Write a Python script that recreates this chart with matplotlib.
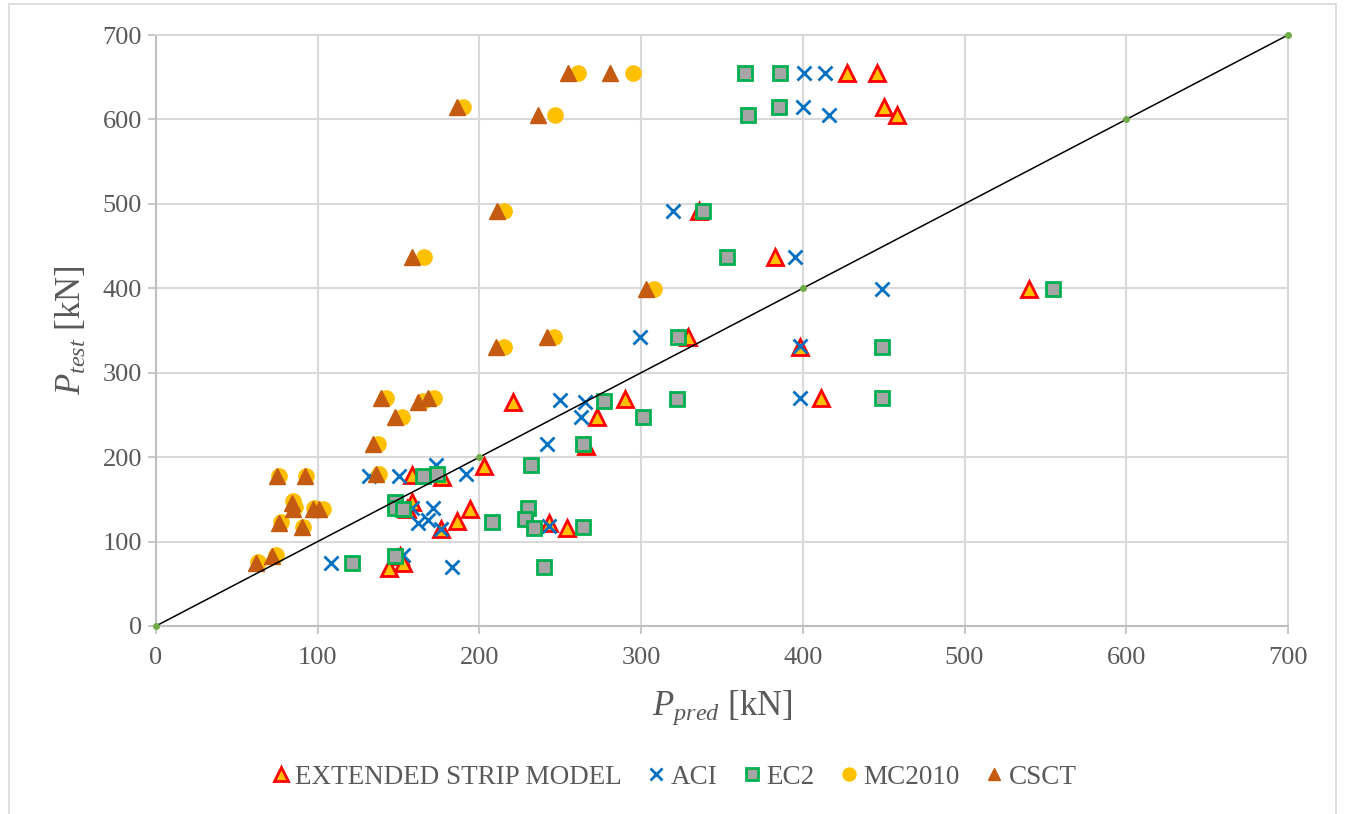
#!/usr/bin/env python3
"""
Ptest vs Ppred scatter for the five punching models, Excel look.
"""
import matplotlib
matplotlib.use("Agg")
import matplotlib.pyplot as plt
from matplotlib.patches import Rectangle

plt.rcParams["font.family"] = ["Liberation Serif", "DejaVu Serif"]
plt.rcParams["mathtext.fontset"] = "custom"
plt.rcParams["mathtext.rm"] = "Liberation Serif"
plt.rcParams["mathtext.it"] = "Liberation Serif:italic"

TXT = "#595959"
GRID = "#d9d9d9"

# EXTENDED STRIP MODEL
esm_pred = [427, 446, 450, 458, 336, 383, 540, 329, 398, 290, 411, 221, 273, 266,
            203, 158, 177, 158, 155, 194, 186, 243, 176, 254, 151, 153, 144]
esm_test = [655, 655, 615, 605, 491, 437, 399, 342, 331, 269, 270, 265, 247, 213,
            190, 179, 177, 147, 138, 139, 124, 122, 115, 116, 83, 74, 69]

# ACI
aci_pred = [401, 414, 400, 416, 320, 395, 449, 299, 398, 250, 398, 265, 263, 242,
            173, 192, 150, 132, 158, 171, 168, 162, 176, 243, 153, 108, 183]
aci_test = [655, 655, 615, 605, 491, 437, 399, 342, 332, 268, 270, 265, 247, 215,
            191, 180, 178, 178, 140, 140, 125, 122, 115, 118, 84, 75, 70]

# EC2
ec2_pred = [364, 386, 385, 366, 338, 353, 555, 323, 449, 322, 449, 277, 301, 264,
            232, 165, 174, 148, 148, 153, 230, 228, 234, 264, 208, 240, 148, 121]
ec2_test = [655, 655, 615, 605, 491, 437, 399, 342, 331, 269, 270, 266, 247, 215,
            191, 178, 180, 147, 140, 139, 140, 127, 116, 117, 123, 70, 83, 75]

# MC2010
mc_pred = [261, 295, 190, 247, 215, 166, 308, 246, 215, 142, 165, 172, 152, 137,
           138, 76, 93, 85, 86, 98, 103, 77, 91, 74, 63]
mc_test = [655, 655, 615, 605, 491, 437, 399, 342, 331, 270, 266, 270, 247, 215,
           180, 178, 178, 148, 141, 140, 139, 123, 117, 84, 76]

# CSCT
csct_pred = [255, 281, 186, 236, 211, 158, 303, 242, 210, 139, 162, 168, 148, 134,
             136, 75, 92, 84, 85, 97, 101, 76, 90, 72, 62]
csct_test = [655, 655, 615, 605, 491, 437, 399, 342, 331, 270, 265, 270, 247, 215,
             180, 178, 178, 146, 139, 139, 139, 122, 117, 83, 75]

# line of equality
eq_x = [0, 200, 400, 600, 700]
eq_y = [0, 200, 400, 600, 700]

TICKS = [0, 100, 200, 300, 400, 500, 600, 700]

fig = plt.figure(figsize=(13.45, 8.14), dpi=100)
ax = fig.add_axes([0.116, 0.231, 0.8416, 0.726])

ax.plot(eq_x, eq_y, color="black", linewidth=1.1, marker="o", markersize=4,
        markerfacecolor="#70ad47", markeredgecolor="#70ad47", zorder=8, clip_on=False)

ax.plot(esm_pred, esm_test, linestyle="none", marker="^", markersize=12,
        markerfacecolor="#ffc000", markeredgecolor="#ff0000", markeredgewidth=2,
        label="EXTENDED STRIP MODEL", zorder=3)
ax.plot(aci_pred, aci_test, linestyle="none", marker="x", markersize=10,
        markeredgecolor="#0070c0", markeredgewidth=2, label="ACI", zorder=4)
ax.plot(ec2_pred, ec2_test, linestyle="none", marker="s", markersize=10,
        markerfacecolor="#a5a5a5", markeredgecolor="#00b050", markeredgewidth=2,
        label="EC2", zorder=5)
ax.plot(mc_pred, mc_test, linestyle="none", marker="o", markersize=11,
        markerfacecolor="#ffc000", markeredgecolor="#ffc000", label="MC2010", zorder=6)
ax.plot(csct_pred, csct_test, linestyle="none", marker="^", markersize=11,
        markerfacecolor="#c55a11", markeredgecolor="#c55a11", label="CSCT", zorder=7)

ax.set_xlim(0, 700)
ax.set_ylim(0, 700)
ax.set_xticks(TICKS)
ax.set_yticks(TICKS)
ax.grid(True, color=GRID, linewidth=1.5)
ax.set_axisbelow(True)
for side in ["top", "right"]:
    ax.spines[side].set_color(GRID)
    ax.spines[side].set_linewidth(1.5)
for side in ["left", "bottom"]:
    ax.spines[side].set_color("#bfbfbf")
    ax.spines[side].set_linewidth(1.5)
ax.tick_params(colors="#bfbfbf", labelcolor=TXT, labelsize=19, length=6, width=1.2)
ax.tick_params(axis="y", pad=4)
ax.tick_params(axis="x", pad=9)

ax.set_xlabel(r"$P_{pred}$ [kN]", fontsize=25, color=TXT, labelpad=14)
ax.set_ylabel(r"$P_{test}$ [kN]", fontsize=25, color=TXT, labelpad=10)

fig.legend(loc="center", bbox_to_anchor=(0.5, 0.045), ncol=5, frameon=False,
           fontsize=19.5, labelcolor=TXT, handletextpad=0.1, columnspacing=0.8,
           handlelength=0.9, markerscale=0.85)

fig.patches.append(Rectangle((9 / 1345, -0.02), 1327 / 1345, 1.015,
                             transform=fig.transFigure, fill=False,
                             edgecolor=GRID, linewidth=1.2))

fig.savefig("out.png", dpi=100)
